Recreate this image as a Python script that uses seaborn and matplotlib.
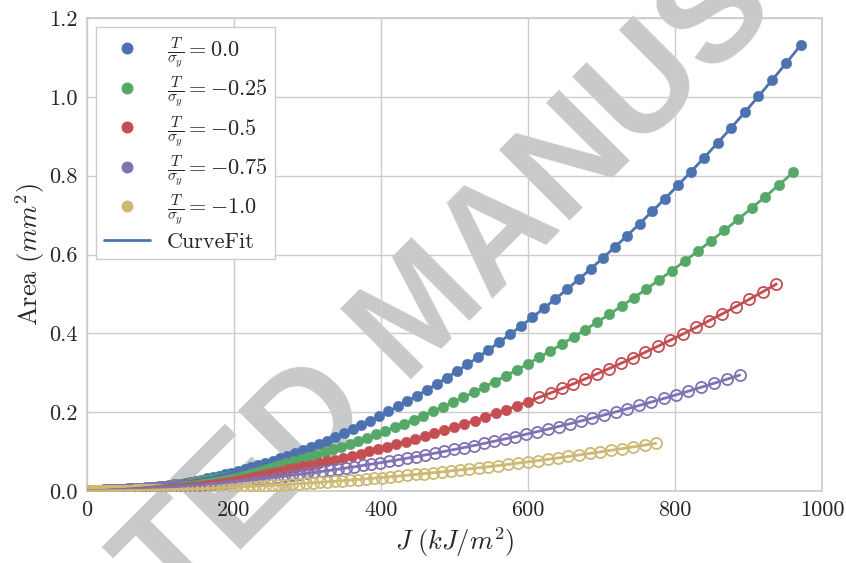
import matplotlib
matplotlib.use("Agg")
import matplotlib.pyplot as plt
from matplotlib.lines import Line2D
import pandas as pd
import seaborn as sns

# ---------------- data ----------------
labels = [r"$\frac{T}{\sigma_y}=0.0$", r"$\frac{T}{\sigma_y}=-0.25$",
          r"$\frac{T}{\sigma_y}=-0.5$", r"$\frac{T}{\sigma_y}=-0.75$",
          r"$\frac{T}{\sigma_y}=-1.0$"]
fit_label = "CurveFit"
x_ticks = [0, 200, 400, 600, 800, 1000]
y_ticks = [0.0, 0.2, 0.4, 0.6, 0.8, 1.0, 1.2]

J_blue = [0.0, 0.1, 0.4, 0.9, 1.6, 2.4, 3.5, 4.8, 6.2, 7.9,
          9.7, 11.7, 14.0, 16.4, 19.0, 21.8, 24.9, 28.1, 31.5, 35.1,
          38.8, 42.8, 47.0, 51.4, 55.9, 60.7, 65.6, 70.8, 76.1, 81.7,
          87.4, 93.3, 99.4, 105.7, 112.2, 118.9, 125.8, 132.9, 140.2, 147.7,
          155.4, 163.2, 171.3, 179.5, 188.0, 196.6, 205.5, 214.5, 223.7, 233.1,
          242.8, 252.6, 262.6, 272.8, 283.1, 293.7, 304.5, 315.5, 326.6, 338.0,
          349.6, 361.3, 373.3, 385.4, 397.7, 410.2, 423.0, 435.9, 449.0, 462.3,
          475.8, 489.5, 503.4, 517.4, 531.7, 546.2, 560.8, 575.7, 590.8, 606.0,
          621.4, 637.1, 652.9, 668.9, 685.1, 701.5, 718.2, 735.0, 751.9, 769.1,
          786.5, 804.1, 821.9, 839.8, 858.0, 876.3, 894.9, 913.6, 932.5, 951.7,
          971.0]
A_blue = [0.0, 0.0, 0.0, 0.0, 0.0, 0.0, 0.0, 0.0, 0.0, 0.0001,
          0.0001, 0.0002, 0.0002, 0.0003, 0.0004, 0.0006, 0.0007, 0.0009, 0.0012, 0.0015,
          0.0018, 0.0022, 0.0027, 0.0032, 0.0038, 0.0044, 0.0052, 0.0060, 0.0070, 0.0080,
          0.0092, 0.0104, 0.0119, 0.0134, 0.0151, 0.0170, 0.0190, 0.0212, 0.0236, 0.0262,
          0.0290, 0.0320, 0.0352, 0.0387, 0.0424, 0.0464, 0.0506, 0.0552, 0.0600, 0.0652,
          0.0707, 0.0765, 0.0827, 0.0892, 0.0962, 0.1035, 0.1112, 0.1194, 0.1280, 0.1370,
          0.1466, 0.1566, 0.1671, 0.1782, 0.1898, 0.2019, 0.2146, 0.2279, 0.2418, 0.2564,
          0.2716, 0.2874, 0.3039, 0.3212, 0.3391, 0.3579, 0.3773, 0.3976, 0.4186, 0.4405,
          0.4633, 0.4869, 0.5114, 0.5368, 0.5631, 0.5904, 0.6187, 0.6479, 0.6783, 0.7096,
          0.7420, 0.7756, 0.8102, 0.8461, 0.8830, 0.9212, 0.9606, 1.0013, 1.0432, 1.0864,
          1.1310]

J_green = [0.0, 0.1, 0.4, 0.9, 1.5, 2.4, 3.5, 4.7, 6.2, 7.8,
           9.6, 11.6, 13.8, 16.2, 18.8, 21.6, 24.6, 27.8, 31.1, 34.7,
           38.4, 42.4, 46.5, 50.8, 55.4, 60.1, 65.0, 70.1, 75.3, 80.8,
           86.5, 92.4, 98.4, 104.7, 111.1, 117.7, 124.5, 131.6, 138.8, 146.2,
           153.8, 161.5, 169.5, 177.7, 186.0, 194.6, 203.3, 212.3, 221.4, 230.7,
           240.3, 250.0, 259.9, 269.9, 280.2, 290.7, 301.4, 312.2, 323.3, 334.5,
           346.0, 357.6, 369.4, 381.4, 393.6, 406.0, 418.6, 431.4, 444.4, 457.5,
           470.9, 484.4, 498.2, 512.1, 526.2, 540.6, 555.1, 569.8, 584.7, 599.8,
           615.0, 630.5, 646.2, 662.0, 678.1, 694.3, 710.8, 727.4, 744.2, 761.2,
           778.4, 795.8, 813.4, 831.2, 849.1, 867.3, 885.7, 904.2, 922.9, 941.9,
           961.0]
A_green = [0.0, 0.0, 0.0, 0.0, 0.0001, 0.0001, 0.0001, 0.0002, 0.0002, 0.0003,
           0.0004, 0.0005, 0.0006, 0.0008, 0.0009, 0.0011, 0.0013, 0.0016, 0.0019, 0.0022,
           0.0025, 0.0030, 0.0034, 0.0039, 0.0045, 0.0051, 0.0058, 0.0065, 0.0073, 0.0082,
           0.0092, 0.0103, 0.0115, 0.0128, 0.0141, 0.0156, 0.0173, 0.0190, 0.0209, 0.0229,
           0.0251, 0.0274, 0.0299, 0.0326, 0.0354, 0.0384, 0.0417, 0.0451, 0.0487, 0.0526,
           0.0567, 0.0610, 0.0656, 0.0704, 0.0755, 0.0809, 0.0865, 0.0925, 0.0988, 0.1054,
           0.1123, 0.1196, 0.1272, 0.1352, 0.1435, 0.1523, 0.1614, 0.1710, 0.1810, 0.1914,
           0.2023, 0.2136, 0.2254, 0.2377, 0.2505, 0.2639, 0.2777, 0.2921, 0.3070, 0.3226,
           0.3387, 0.3554, 0.3727, 0.3907, 0.4093, 0.4286, 0.4485, 0.4692, 0.4906, 0.5126,
           0.5355, 0.5591, 0.5834, 0.6086, 0.6346, 0.6614, 0.6890, 0.7176, 0.7469, 0.7773,
           0.8085]

J_red = [0.0, 0.1, 0.4, 0.8, 1.5, 2.3, 3.4, 4.6, 6.0, 7.6,
         9.4, 11.3, 13.5, 15.9, 18.4, 21.1, 24.0, 27.1, 30.4, 33.9,
         37.5, 41.4, 45.4, 49.6, 54.0, 58.6, 63.4, 68.4, 73.5, 78.9,
         84.4, 90.1, 96.1, 102.1, 108.4, 114.9, 121.6, 128.4, 135.4, 142.7,
         150.1, 157.7, 165.5, 173.4, 181.6, 190.0, 198.5, 207.2, 216.1, 225.2,
         234.5, 244.0, 253.6, 263.5, 273.5, 283.7, 294.2, 304.8, 315.5, 326.5,
         337.7, 349.0, 360.6, 372.3, 384.2, 396.3, 408.6, 421.1, 433.7, 446.6,
         459.6, 472.8, 486.3, 499.9, 513.6, 527.6, 541.8, 556.1, 570.7, 585.4,
         600.3, 615.4, 630.7, 646.2, 661.9, 677.7, 693.7, 710.0, 726.4, 743.0,
         759.8, 776.8, 793.9, 811.3, 828.8, 846.5, 864.5, 882.6, 900.9, 919.3,
         938.0]
A_red = [0.0, 0.0, 0.0, 0.0, 0.0001, 0.0001, 0.0002, 0.0003, 0.0003, 0.0004,
         0.0006, 0.0007, 0.0008, 0.0010, 0.0012, 0.0014, 0.0016, 0.0019, 0.0022, 0.0025,
         0.0028, 0.0032, 0.0036, 0.0040, 0.0045, 0.0051, 0.0056, 0.0063, 0.0069, 0.0077,
         0.0084, 0.0093, 0.0102, 0.0112, 0.0123, 0.0134, 0.0146, 0.0159, 0.0173, 0.0188,
         0.0203, 0.0220, 0.0238, 0.0257, 0.0277, 0.0298, 0.0321, 0.0344, 0.0370, 0.0396,
         0.0424, 0.0454, 0.0485, 0.0518, 0.0552, 0.0589, 0.0627, 0.0667, 0.0708, 0.0752,
         0.0798, 0.0847, 0.0897, 0.0950, 0.1005, 0.1062, 0.1122, 0.1185, 0.1250, 0.1318,
         0.1389, 0.1462, 0.1539, 0.1618, 0.1701, 0.1787, 0.1877, 0.1969, 0.2065, 0.2165,
         0.2268, 0.2376, 0.2487, 0.2601, 0.2720, 0.2843, 0.2970, 0.3102, 0.3238, 0.3378,
         0.3523, 0.3673, 0.3828, 0.3987, 0.4152, 0.4321, 0.4496, 0.4676, 0.4862, 0.5053,
         0.5250]

J_purple = [0.0, 0.1, 0.4, 0.8, 1.4, 2.2, 3.2, 4.4, 5.7, 7.2,
            8.9, 10.7, 12.8, 15.0, 17.4, 20.0, 22.7, 25.7, 28.8, 32.1,
            35.5, 39.2, 43.0, 47.0, 51.1, 55.5, 60.0, 64.7, 69.6, 74.7,
            79.9, 85.3, 90.9, 96.7, 102.7, 108.8, 115.1, 121.6, 128.2, 135.1,
            142.1, 149.3, 156.6, 164.2, 171.9, 179.8, 187.9, 196.2, 204.6, 213.2,
            222.0, 231.0, 240.1, 249.4, 258.9, 268.6, 278.5, 288.5, 298.7, 309.1,
            319.7, 330.4, 341.3, 352.4, 363.7, 375.2, 386.8, 398.6, 410.6, 422.8,
            435.1, 447.6, 460.3, 473.2, 486.3, 499.5, 512.9, 526.5, 540.3, 554.2,
            568.3, 582.6, 597.1, 611.7, 626.6, 641.6, 656.8, 672.1, 687.7, 703.4,
            719.3, 735.4, 751.6, 768.0, 784.6, 801.4, 818.4, 835.5, 852.8, 870.3,
            888.0]
A_purple = [0.0, 0.0, 0.0, 0.0, 0.0001, 0.0001, 0.0002, 0.0003, 0.0003, 0.0004,
            0.0005, 0.0006, 0.0008, 0.0009, 0.0011, 0.0012, 0.0014, 0.0016, 0.0019, 0.0021,
            0.0024, 0.0027, 0.0030, 0.0033, 0.0037, 0.0041, 0.0045, 0.0049, 0.0054, 0.0059,
            0.0065, 0.0071, 0.0077, 0.0083, 0.0090, 0.0098, 0.0106, 0.0114, 0.0123, 0.0132,
            0.0142, 0.0153, 0.0164, 0.0176, 0.0188, 0.0201, 0.0215, 0.0229, 0.0245, 0.0261,
            0.0277, 0.0295, 0.0313, 0.0333, 0.0353, 0.0374, 0.0397, 0.0420, 0.0444, 0.0470,
            0.0496, 0.0524, 0.0552, 0.0583, 0.0614, 0.0647, 0.0681, 0.0716, 0.0753, 0.0791,
            0.0831, 0.0872, 0.0915, 0.0959, 0.1005, 0.1053, 0.1103, 0.1154, 0.1207, 0.1262,
            0.1319, 0.1378, 0.1439, 0.1502, 0.1567, 0.1635, 0.1704, 0.1776, 0.1850, 0.1927,
            0.2006, 0.2087, 0.2171, 0.2258, 0.2347, 0.2439, 0.2533, 0.2631, 0.2731, 0.2834,
            0.2940]

J_yellow = [0.0, 0.1, 0.3, 0.7, 1.2, 1.9, 2.8, 3.8, 5.0, 6.3,
            7.7, 9.4, 11.1, 13.1, 15.2, 17.4, 19.8, 22.4, 25.1, 27.9,
            31.0, 34.1, 37.5, 40.9, 44.6, 48.4, 52.3, 56.4, 60.7, 65.1,
            69.7, 74.4, 79.3, 84.3, 89.5, 94.8, 100.3, 106.0, 111.8, 117.7,
            123.8, 130.1, 136.5, 143.1, 149.8, 156.7, 163.8, 171.0, 178.3, 185.8,
            193.5, 201.3, 209.3, 217.4, 225.7, 234.1, 242.7, 251.5, 260.4, 269.4,
            278.6, 288.0, 297.5, 307.2, 317.0, 327.0, 337.2, 347.4, 357.9, 368.5,
            379.3, 390.2, 401.2, 412.5, 423.8, 435.4, 447.1, 458.9, 470.9, 483.1,
            495.4, 507.8, 520.4, 533.2, 546.1, 559.2, 572.5, 585.8, 599.4, 613.1,
            626.9, 641.0, 655.1, 669.4, 683.9, 698.5, 713.3, 728.3, 743.3, 758.6,
            774.0]
A_yellow = [0.0, 0.0, 0.0, 0.0, 0.0, 0.0, 0.0, 0.0, 0.0, 0.0001,
            0.0001, 0.0001, 0.0001, 0.0001, 0.0002, 0.0002, 0.0002, 0.0003, 0.0003, 0.0004,
            0.0005, 0.0005, 0.0006, 0.0007, 0.0008, 0.0009, 0.0010, 0.0011, 0.0012, 0.0014,
            0.0015, 0.0017, 0.0019, 0.0021, 0.0023, 0.0025, 0.0028, 0.0031, 0.0033, 0.0037,
            0.0040, 0.0044, 0.0047, 0.0051, 0.0056, 0.0060, 0.0065, 0.0071, 0.0076, 0.0082,
            0.0088, 0.0095, 0.0102, 0.0109, 0.0117, 0.0125, 0.0133, 0.0142, 0.0152, 0.0162,
            0.0172, 0.0183, 0.0195, 0.0207, 0.0219, 0.0232, 0.0246, 0.0260, 0.0275, 0.0291,
            0.0307, 0.0324, 0.0342, 0.0360, 0.0379, 0.0399, 0.0420, 0.0442, 0.0464, 0.0487,
            0.0511, 0.0536, 0.0562, 0.0589, 0.0616, 0.0645, 0.0675, 0.0706, 0.0737, 0.0770,
            0.0804, 0.0839, 0.0876, 0.0913, 0.0952, 0.0992, 0.1033, 0.1075, 0.1119, 0.1164,
            0.1210]

# number of leading points drawn as filled markers (rest are open circles)
n_filled = [101, 101, 81, 0, 0]

# ---------------- style ----------------
sns.set_theme(style="whitegrid")
plt.rcParams.update({
    "font.family": "serif",
    "font.serif": ["cmr10"],
    "mathtext.fontset": "cm",
    "axes.unicode_minus": False,
    "axes.formatter.use_mathtext": True,
})
colors = sns.color_palette("deep6")[:5]

fig = plt.figure(figsize=(8.46, 5.63), dpi=100)
ax = fig.add_axes([0.1028, 0.1279, 0.8688, 0.8401])

series = [(J_blue, A_blue), (J_green, A_green), (J_red, A_red),
          (J_purple, A_purple), (J_yellow, A_yellow)]

for (J, A), nf, col in zip(series, n_filled, colors):
    df = pd.DataFrame({"J": J, "A": A})
    filled = df.iloc[:nf]
    hollow = df.iloc[nf:]
    if len(filled):
        sns.lineplot(data=filled, x="J", y="A", ax=ax, estimator=None, sort=False,
                     linestyle="", marker="o", markersize=7.6, color=col,
                     markerfacecolor=col, markeredgecolor=col, markeredgewidth=0.3,
                     legend=False, zorder=3)
    if len(hollow):
        sns.lineplot(data=hollow, x="J", y="A", ax=ax, estimator=None, sort=False,
                     linestyle="", marker="o", markersize=8.0, color=col,
                     markerfacecolor="none", markeredgecolor=col, markeredgewidth=1.3,
                     legend=False, zorder=3)
    # curve fit line through the data
    sns.lineplot(data=df, x="J", y="A", ax=ax, estimator=None, sort=False,
                 color=col, linewidth=2.0, legend=False, zorder=4)

ax.set_xlim(0, 1000)
ax.set_ylim(0, 1.2)
ax.set_xticks(x_ticks)
ax.set_yticks(y_ticks)
ax.set_yticklabels([f"{v:.1f}" for v in y_ticks])
ax.set_xticklabels([str(v) for v in x_ticks])
ax.tick_params(axis="both", labelsize=16, length=0, pad=7, colors=".15")
ax.set_xlabel(r"$J\ (kJ/m^2)$", fontsize=19, labelpad=4)
ax.set_ylabel(r"Area $(mm^2)$", fontsize=19, labelpad=1)

handles = [Line2D([], [], linestyle="", marker="o", markersize=7.6, color=c,
                  markeredgecolor=c) for c in colors]
handles.append(Line2D([], [], color=colors[0], linewidth=2.0))
leg = ax.legend(handles, labels + [fit_label], loc="upper left", frameon=True,
                fancybox=False, fontsize=16, labelspacing=0.21, handlelength=2.1,
                borderaxespad=0.4, borderpad=0.35, handletextpad=0.75, numpoints=1)
leg.get_frame().set_edgecolor("0.8")
leg.get_frame().set_facecolor("white")
leg.get_frame().set_alpha(1.0)
leg.set_zorder(6)

# journal watermark over the page (under the tick labels and data)
ax.text(0.500, 0.442, "ACCEPTED MANUSCRIPT", transform=fig.transFigure,
        rotation=45, ha="center", va="center", fontsize=104, fontweight="bold",
        family="Liberation Sans", color="#c8c9cb", zorder=0.4, clip_on=False)

fig.savefig("out.png", dpi=100)
